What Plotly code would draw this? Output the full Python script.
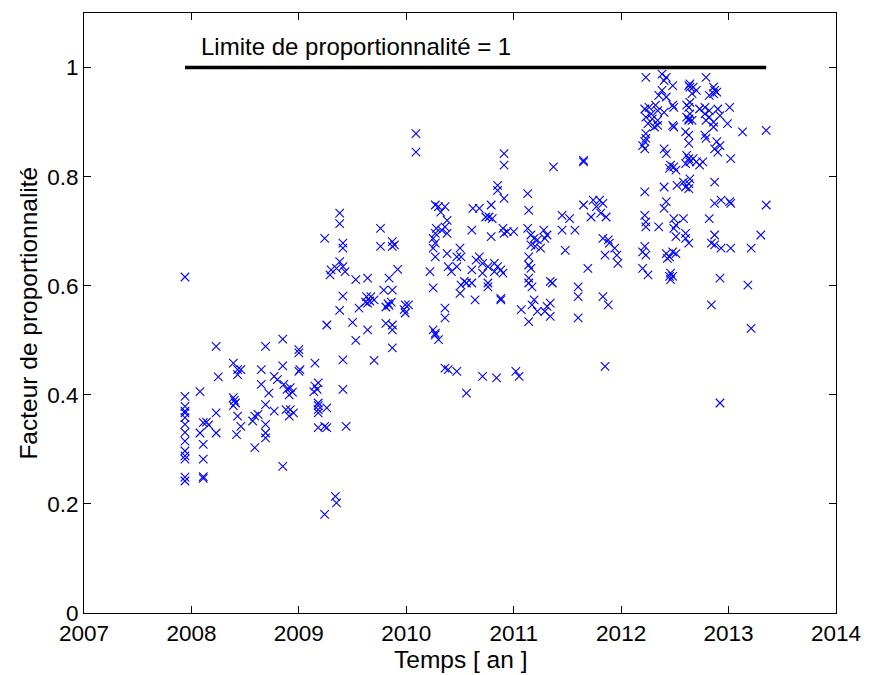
import plotly.graph_objects as go

# Observations: (date in decimal years, proportionality factor)
obs_2008a = [
    (2007.94, 0.616), (2007.94, 0.397), (2007.94, 0.379), (2007.94, 0.370), (2007.94, 0.367),
    (2007.94, 0.358), (2007.94, 0.346), (2007.94, 0.331), (2007.94, 0.315), (2007.94, 0.297),
    (2007.94, 0.288), (2007.94, 0.282), (2007.94, 0.249), (2007.94, 0.242),
    (2008.08, 0.406), (2008.08, 0.330), (2008.11, 0.349), (2008.11, 0.309), (2008.11, 0.282),
    (2008.11, 0.250), (2008.11, 0.247), (2008.14, 0.350), (2008.16, 0.345),
    (2008.23, 0.489), (2008.23, 0.367), (2008.23, 0.330), (2008.25, 0.433),
    (2008.39, 0.458), (2008.43, 0.446), (2008.46, 0.446), (2008.43, 0.437),
    (2008.39, 0.395), (2008.40, 0.390), (2008.41, 0.385), (2008.39, 0.380),
    (2008.43, 0.361), (2008.46, 0.342), (2008.42, 0.327),
]

obs_2008b = [
    (2008.59, 0.361), (2008.62, 0.364), (2008.57, 0.352), (2008.59, 0.303),
    (2008.65, 0.446), (2008.65, 0.419), (2008.69, 0.489), (2008.72, 0.403),
    (2008.69, 0.382), (2008.69, 0.346), (2008.69, 0.330), (2008.69, 0.321),
    (2008.85, 0.502), (2008.85, 0.453), (2008.85, 0.269), (2008.77, 0.434), (2008.80, 0.428),
    (2008.86, 0.419), (2008.89, 0.410), (2008.92, 0.413), (2008.91, 0.400), (2008.94, 0.405),
    (2008.77, 0.370), (2008.88, 0.373), (2008.92, 0.373), (2008.95, 0.367), (2008.91, 0.361),
    (2009.00, 0.483), (2009.00, 0.477), (2009.01, 0.446), (2009.00, 0.443),
]

obs_2009 = [
    (2009.15, 0.458), (2009.15, 0.416), (2009.18, 0.422), (2009.17, 0.410), (2009.14, 0.406),
    (2009.18, 0.385), (2009.18, 0.380), (2009.18, 0.373), (2009.18, 0.367), (2009.26, 0.376),
    (2009.18, 0.340), (2009.24, 0.342), (2009.26, 0.340),
    (2009.41, 0.410), (2009.44, 0.342), (2009.41, 0.464),
    (2009.24, 0.181), (2009.34, 0.214), (2009.35, 0.202),
    (2009.38, 0.733), (2009.38, 0.714), (2009.24, 0.687), (2009.41, 0.678), (2009.41, 0.669),
    (2009.38, 0.644), (2009.41, 0.635), (2009.30, 0.629), (2009.29, 0.620), (2009.35, 0.632),
    (2009.43, 0.626), (2009.53, 0.611), (2009.64, 0.614), (2009.41, 0.581), (2009.38, 0.555),
    (2009.26, 0.528), (2009.50, 0.533), (2009.53, 0.500), (2009.64, 0.519), (2009.70, 0.463),
    (2009.56, 0.559), (2009.63, 0.580), (2009.67, 0.580), (2009.66, 0.572), (2009.64, 0.568),
    (2009.70, 0.574), (2009.62, 0.570), (2009.76, 0.705), (2009.76, 0.672),
    (2009.87, 0.681), (2009.89, 0.675), (2009.87, 0.672), (2009.92, 0.630), (2009.84, 0.614),
    (2009.87, 0.592), (2009.79, 0.592), (2009.83, 0.567), (2009.84, 0.564), (2009.81, 0.561),
    (2009.86, 0.570), (2009.81, 0.531), (2009.87, 0.528), (2009.87, 0.519), (2009.87, 0.486),
    (2009.99, 0.565), (2010.02, 0.565), (2009.99, 0.550), (2009.98, 0.556),
]

obs_2010 = [
    (2010.09, 0.879), (2010.09, 0.845),
    (2010.27, 0.748), (2010.36, 0.745), (2010.32, 0.735), (2010.30, 0.745),
    (2010.38, 0.720), (2010.36, 0.708), (2010.33, 0.702), (2010.28, 0.705), (2010.27, 0.696),
    (2010.38, 0.696), (2010.25, 0.687), (2010.25, 0.669), (2010.27, 0.678), (2010.27, 0.653),
    (2010.38, 0.659), (2010.22, 0.626), (2010.25, 0.596), (2010.36, 0.559), (2010.36, 0.541),
    (2010.25, 0.519), (2010.27, 0.513), (2010.30, 0.501), (2010.27, 0.510),
    (2010.36, 0.449), (2010.39, 0.446), (2010.47, 0.443), (2010.56, 0.403),
    (2010.71, 0.434), (2010.84, 0.431),
    (2010.62, 0.742), (2010.68, 0.742), (2010.79, 0.748), (2010.77, 0.726), (2010.80, 0.723),
    (2010.74, 0.726), (2010.61, 0.702), (2010.79, 0.690),
    (2010.50, 0.669), (2010.51, 0.653), (2010.47, 0.653), (2010.39, 0.635), (2010.42, 0.626),
    (2010.47, 0.635), (2010.54, 0.608), (2010.56, 0.605), (2010.61, 0.605), (2010.51, 0.601),
    (2010.50, 0.586), (2010.64, 0.574),
    (2010.65, 0.647), (2010.68, 0.653), (2010.71, 0.641), (2010.76, 0.635), (2010.61, 0.629),
    (2010.71, 0.623), (2010.76, 0.605), (2010.76, 0.598),
    (2010.82, 0.641), (2010.85, 0.635), (2010.88, 0.629), (2010.90, 0.623), (2010.82, 0.626),
    (2010.88, 0.577), (2010.88, 0.574),
    (2010.91, 0.842), (2010.91, 0.821), (2010.85, 0.784), (2010.85, 0.775), (2010.91, 0.760),
    (2010.90, 0.705), (2010.91, 0.696), (2010.94, 0.699),
]

obs_2011 = [
    (2011.00, 0.699), (2011.37, 0.818), (2011.65, 0.830), (2011.65, 0.827),
    (2011.13, 0.769), (2011.14, 0.738),
    (2011.13, 0.705), (2011.16, 0.693), (2011.19, 0.687), (2011.22, 0.684), (2011.16, 0.675),
    (2011.20, 0.672), (2011.25, 0.669), (2011.28, 0.702), (2011.31, 0.693), (2011.29, 0.687),
    (2011.14, 0.653), (2011.14, 0.638), (2011.16, 0.632), (2011.14, 0.614), (2011.14, 0.605),
    (2011.17, 0.598), (2011.34, 0.608), (2011.36, 0.605),
    (2011.19, 0.574), (2011.17, 0.565), (2011.14, 0.534), (2011.07, 0.556), (2011.22, 0.553),
    (2011.31, 0.562), (2011.34, 0.568), (2011.29, 0.553), (2011.34, 0.544),
    (2011.02, 0.443), (2011.05, 0.434),
    (2011.48, 0.665), (2011.45, 0.729), (2011.52, 0.723), (2011.45, 0.702), (2011.57, 0.702),
    (2011.65, 0.748), (2011.74, 0.757), (2011.80, 0.757), (2011.77, 0.745), (2011.83, 0.751),
    (2011.72, 0.726), (2011.81, 0.733), (2011.86, 0.726),
    (2011.69, 0.632), (2011.60, 0.598), (2011.60, 0.580), (2011.60, 0.541),
    (2011.83, 0.687), (2011.88, 0.684), (2011.85, 0.656), (2011.89, 0.678),
    (2011.83, 0.580), (2011.88, 0.565), (2011.85, 0.452),
    (2011.94, 0.669), (2011.96, 0.656), (2011.97, 0.641),
]

obs_2012a = [
    (2012.22, 0.672), (2012.20, 0.662), (2012.23, 0.656), (2012.20, 0.632), (2012.25, 0.620),
    (2012.42, 0.659), (2012.45, 0.653), (2012.48, 0.662), (2012.51, 0.659), (2012.43, 0.650),
    (2012.46, 0.623), (2012.45, 0.617), (2012.48, 0.617), (2012.46, 0.611),
    (2012.23, 0.708), (2012.35, 0.708), (2012.49, 0.705), (2012.51, 0.690), (2012.60, 0.696),
    (2012.60, 0.687), (2012.63, 0.678),
    (2012.22, 0.772), (2012.22, 0.729), (2012.23, 0.717),
    (2012.42, 0.754), (2012.40, 0.742), (2012.40, 0.781),
    (2012.49, 0.723), (2012.51, 0.711), (2012.58, 0.723),
    (2012.58, 0.790), (2012.63, 0.787), (2012.60, 0.781), (2012.52, 0.784), (2012.63, 0.778),
]

obs_2012b = [
    (2012.23, 0.982), (2012.38, 0.988), (2012.42, 0.982), (2012.40, 0.976), (2012.48, 0.967),
    (2012.63, 0.967), (2012.64, 0.964), (2012.38, 0.958), (2012.35, 0.949), (2012.42, 0.946),
    (2012.22, 0.924), (2012.26, 0.927), (2012.32, 0.931), (2012.34, 0.921), (2012.28, 0.915),
    (2012.23, 0.909), (2012.29, 0.906), (2012.34, 0.903), (2012.25, 0.897), (2012.34, 0.894),
    (2012.31, 0.891), (2012.40, 0.918),
    (2012.48, 0.931), (2012.49, 0.927), (2012.48, 0.894), (2012.49, 0.891),
    (2012.61, 0.931), (2012.63, 0.927), (2012.61, 0.909), (2012.63, 0.903),
    (2012.23, 0.879), (2012.23, 0.870), (2012.22, 0.864), (2012.20, 0.857), (2012.22, 0.851),
    (2012.40, 0.851), (2012.42, 0.842),
    (2012.46, 0.821), (2012.49, 0.818), (2012.45, 0.815), (2012.51, 0.812),
    (2012.60, 0.882), (2012.63, 0.876), (2012.63, 0.861), (2012.61, 0.839), (2012.63, 0.833),
    (2012.60, 0.824), (2012.64, 0.827),
]

obs_2013 = [
    (2012.79, 0.982), (2012.64, 0.970), (2012.67, 0.964), (2012.70, 0.958), (2012.66, 0.952),
    (2012.86, 0.964), (2012.87, 0.958), (2012.86, 0.952), (2012.89, 0.955), (2012.82, 0.949),
    (2012.64, 0.936), (2012.73, 0.924), (2012.78, 0.927), (2012.78, 0.915), (2012.82, 0.921),
    (2012.82, 0.909), (2012.79, 0.903), (2012.86, 0.900), (2012.90, 0.924), (2012.92, 0.912),
    (2012.86, 0.891), (2013.01, 0.927), (2012.99, 0.897),
    (2012.64, 0.915), (2012.66, 0.903), (2012.63, 0.906),
    (2013.13, 0.882), (2013.35, 0.885),
    (2012.78, 0.876), (2012.79, 0.870), (2012.89, 0.864), (2012.92, 0.857), (2012.87, 0.851),
    (2012.90, 0.845), (2013.02, 0.833), (2012.67, 0.833), (2012.70, 0.827), (2012.76, 0.827),
    (2012.73, 0.821), (2012.64, 0.796), (2012.87, 0.790),
    (2012.87, 0.751), (2012.93, 0.757), (2013.01, 0.754), (2013.02, 0.751), (2013.35, 0.748),
    (2012.82, 0.723), (2012.87, 0.693), (2012.84, 0.678), (2012.87, 0.675), (2012.93, 0.669),
    (2013.02, 0.669), (2013.30, 0.693), (2013.21, 0.669),
    (2012.92, 0.614), (2013.18, 0.601), (2012.84, 0.565), (2013.21, 0.522), (2012.92, 0.385),
]

# Horizontal limit line spanning the observation period
limit_dates = [2007.94, 2013.35]
limit_value = 1.0
limit_label = "Limite de proportionnalité = 1"

x_ticks = [2007, 2008, 2009, 2010, 2011, 2012, 2013, 2014]
y_ticks = [0, 0.2, 0.4, 0.6, 0.8, 1]
y_tick_text = ["0", "0.2", "0.4", "0.6", "0.8", "1"]

all_obs = obs_2008a + obs_2008b + obs_2009 + obs_2010 + obs_2011 + obs_2012a + obs_2012b + obs_2013
dates = [d for d, _ in all_obs]
factors = [f for _, f in all_obs]

FONT = "Liberation Sans, Arial, Helvetica, sans-serif"

fig = go.Figure()
fig.add_trace(go.Scatter(
    x=dates, y=factors, mode="markers",
    marker=dict(symbol="x-thin", size=8.5, color="#0000ff",
                line=dict(color="#0000ff", width=1.1)),
    showlegend=False, hoverinfo="x+y",
))
fig.add_trace(go.Scatter(
    x=limit_dates, y=[limit_value, limit_value], mode="lines",
    line=dict(color="black", width=3.5), showlegend=False,
))

fig.add_annotation(
    x=2008.07, y=1.039, xref="x", yref="y", text=limit_label,
    showarrow=False, xanchor="left", yanchor="middle",
    font=dict(family=FONT, size=24, color="black"),
)
fig.add_annotation(
    x=0.5, y=-0.078, xref="paper", yref="paper", text="Temps [ an ]",
    showarrow=False, xanchor="center", yanchor="middle",
    font=dict(family=FONT, size=24.5, color="black"),
)
fig.add_annotation(
    x=-0.075, y=0.5, xref="paper", yref="paper", text="Facteur de proportionnalité",
    showarrow=False, xanchor="center", yanchor="middle", textangle=-90,
    font=dict(family=FONT, size=24.5, color="black"),
)

axis_common = dict(
    showline=True, linecolor="black", linewidth=1, mirror="ticks",
    ticks="inside", ticklen=7, tickcolor="black", tickwidth=1,
    showgrid=False, zeroline=False,
    tickfont=dict(family=FONT, size=22.5, color="black"),
)

fig.update_xaxes(range=[2007, 2014], tickvals=x_ticks,
                 ticktext=[str(t) for t in x_ticks], **axis_common)
fig.update_yaxes(range=[0, 1.1], tickvals=y_ticks, ticktext=y_tick_text, **axis_common)

fig.update_layout(
    width=873, height=675,
    margin=dict(l=84, r=27, t=13, b=62),
    paper_bgcolor="white", plot_bgcolor="white",
    font=dict(family=FONT, color="black"),
)

fig.write_html("out.html")
